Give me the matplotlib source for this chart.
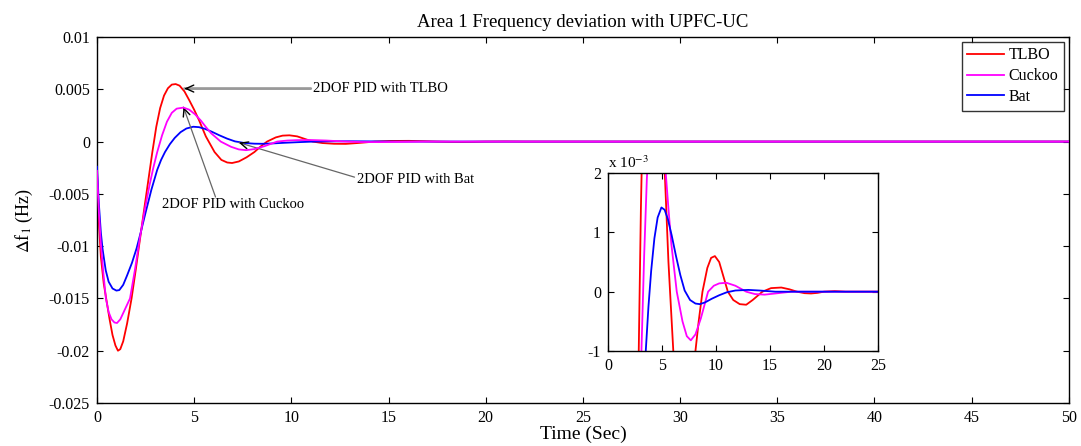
import matplotlib
matplotlib.use("Agg")
import matplotlib.pyplot as plt
import numpy as np

plt.rcParams['font.family'] = 'serif'
plt.rcParams['font.serif'] = ['Liberation Serif', 'DejaVu Serif']
plt.rcParams['mathtext.fontset'] = 'stix'
plt.rcParams['axes.unicode_minus'] = False

# values, deviation in units of 1e-3 Hz
t_tlbo = [0, 0.1, 0.2, 0.35, 0.5, 0.65, 0.8, 0.95, 1.08, 1.2, 1.35, 1.55, 1.78, 2.0, 2.2,
          2.45, 2.65, 2.85, 3.05, 3.25, 3.45, 3.65, 3.85, 4.05, 4.25, 4.5, 4.75, 5.0,
          5.25, 5.6, 6.05, 6.4, 6.7, 6.95, 7.3, 7.7, 8.1, 8.4, 8.75, 9.2, 9.55, 9.9, 10.3,
          10.7, 11.1, 11.6, 12.2, 12.8, 13.4, 14.3, 15.1, 16.05, 16.8, 17.5, 18.2, 18.8,
          19.4, 20.0, 21.0, 22.0, 50]
f_tlbo = [-3.0, -7.8, -11.0, -13.6, -15.3, -17.0, -18.5, -19.5, -20.0, -19.85, -19.1,
          -17.4, -15.0, -12.2, -9.5, -6.2, -3.6, -1.0, 1.4, 3.2, 4.4, 5.1, 5.45, 5.5,
          5.35, 4.8, 3.95, 3.05, 2.05, 0.5, -1.0, -1.75, -2.0, -2.05, -1.9, -1.5, -1.0,
          -0.5, 0.0, 0.4, 0.57, 0.6, 0.5, 0.25, 0.0, -0.14, -0.21, -0.22, -0.14, 0.0,
          0.06, 0.07, 0.04, 0.0, -0.025, -0.03, -0.02, 0.0, 0.01, 0.0, 0.0]

t_cuckoo = [0, 0.1, 0.2, 0.33, 0.46, 0.6, 0.75, 0.9, 1.03, 1.2, 1.45, 1.7, 1.95, 2.2,
            2.45, 2.7, 2.9, 3.1, 3.35, 3.6, 3.85, 4.1, 4.45, 4.75, 5.05, 5.35, 5.6, 5.87,
            6.37, 6.9, 7.3, 7.67, 8.1, 8.6, 9.27, 9.8, 10.3, 10.97, 11.8, 12.8, 13.6,
            14.5, 15.5, 17.0, 50]
f_cuckoo = [-2.8, -6.8, -9.8, -12.6, -15.0, -16.3, -17.0, -17.3, -17.35, -17.0, -16.0,
            -15.0, -12.3, -9.3, -6.6, -4.2, -2.5, -1.0, 0.6, 1.9, 2.75, 3.15, 3.25, 3.05,
            2.6, 2.0, 1.4, 0.8, 0.0, -0.5, -0.75, -0.82, -0.72, -0.45, 0.0, 0.1, 0.14,
            0.15, 0.1, 0.0, -0.04, -0.05, -0.03, 0.0, 0.0]

t_bat = [0, 0.1, 0.2, 0.29, 0.45, 0.6, 0.8, 1.0, 1.15, 1.35, 1.55, 1.8, 2.04, 2.25, 2.5,
         2.8, 3.1, 3.3, 3.5, 3.75, 4.0, 4.3, 4.6, 4.95, 5.25, 5.55, 5.9, 6.3, 6.7, 7.1,
         7.6, 8.1, 8.5, 9.0, 9.6, 10.3, 11.0, 11.8, 13.0, 14.0, 15.5, 50]
f_bat = [-2.4, -6.0, -8.7, -10.3, -12.3, -13.4, -14.05, -14.25, -14.2, -13.7, -12.8,
         -11.6, -10.2, -8.7, -6.8, -4.6, -2.7, -1.75, -1.0, -0.25, 0.35, 0.9, 1.25, 1.42,
         1.38, 1.22, 0.95, 0.6, 0.28, 0.02, -0.14, -0.2, -0.21, -0.18, -0.12, -0.06,
         -0.01, 0.02, 0.03, 0.02, 0.0, 0.0]

series = [("TLBO", t_tlbo, f_tlbo, "#ff0000"),
          ("Cuckoo", t_cuckoo, f_cuckoo, "#ff00ff"),
          ("Bat", t_bat, f_bat, "#0000ff")]


def matlab_axes(ax):
    ax.tick_params(direction='in', top=True, right=True, length=4, width=0.8,
                   labelsize=11.5, pad=5)
    for s in ax.spines.values():
        s.set_linewidth(1.0)


fig = plt.figure(figsize=(10.81, 4.46), dpi=100)
ax = fig.add_axes([0.0897, 0.0964, 0.899, 0.8206])

for name, t, f, c in series:
    ax.plot(t, np.array(f) * 1e-3, color=c, lw=1.3, label=name,
            solid_joinstyle='round',
            zorder={"TLBO": 2, "Cuckoo": 4, "Bat": 3}[name])

ax.set_xlim(0, 50)
ax.set_ylim(-0.025, 0.01)
ax.set_xticks(np.arange(0, 51, 5))
ax.set_yticks([0.01, 0.005, 0, -0.005, -0.01, -0.015, -0.02, -0.025])
ax.yaxis.set_major_formatter(matplotlib.ticker.FormatStrFormatter('%g'))
matlab_axes(ax)
ax.set_title("Area 1 Frequency deviation with UPFC-UC", fontsize=13.5, pad=7)
ax.set_xlabel("Time (Sec)", fontsize=14, labelpad=0)
ax.set_ylabel(r"$\Delta$f$_1$ (Hz)", fontsize=13, labelpad=10)

leg = ax.legend(loc='upper right', fontsize=11.5, handlelength=2.3, frameon=True,
                fancybox=False, edgecolor='black', borderaxespad=0.3,
                labelspacing=0.3, borderpad=0.35, handletextpad=0.3)
leg.get_frame().set_linewidth(1.0)

# annotations: grey shaft, black open arrow head
def pointer(xy, start, shaft_color, shaft_lw):
    ax.annotate("", xy=xy, xytext=start,
                arrowprops=dict(arrowstyle='-', color=shaft_color, lw=shaft_lw,
                                shrinkA=0, shrinkB=0))
    d = np.array(start) - np.array(xy)
    d = d / np.array([50.0, 0.035]) * 0.025
    tip_from = (xy[0] + d[0] * 50.0, xy[1] + d[1] * 0.035)
    ax.annotate("", xy=xy, xytext=tip_from,
                arrowprops=dict(arrowstyle='->,head_length=0.55,head_width=0.25',
                                color='black', lw=1.0, shrinkA=0, shrinkB=0))

ax.text(11.1, 0.00507, "2DOF PID with TLBO", fontsize=10.5, va='center', ha='left')
pointer((4.5, 0.00507), (11.0, 0.00507), '0.6', 2.0)
ax.text(7.0, -0.00602, "2DOF PID with Cuckoo", fontsize=10.5, va='center', ha='center')
pointer((4.45, 0.0033), (6.1, -0.0053), '0.4', 0.9)
ax.text(13.4, -0.00363, "2DOF PID with Bat", fontsize=10.5, va='center', ha='left')
pointer((7.3, -0.0001), (13.25, -0.0034), '0.4', 0.9)

# zoomed inset
ins = fig.add_axes([0.5624, 0.213, 0.2498, 0.399])
for name, t, f, c in series:
    ins.plot(t, f, color=c, lw=1.3, solid_joinstyle='round')
ins.set_xlim(0, 25)
ins.set_ylim(-1, 2)
ins.set_xticks([0, 5, 10, 15, 20, 25])
ins.set_yticks([-1, 0, 1, 2])
matlab_axes(ins)
ins.text(0.0, 1.01, r"x 10$^{-3}$", transform=ins.transAxes, fontsize=11,
         ha='left', va='bottom')

fig.savefig("out.png", dpi=100)
